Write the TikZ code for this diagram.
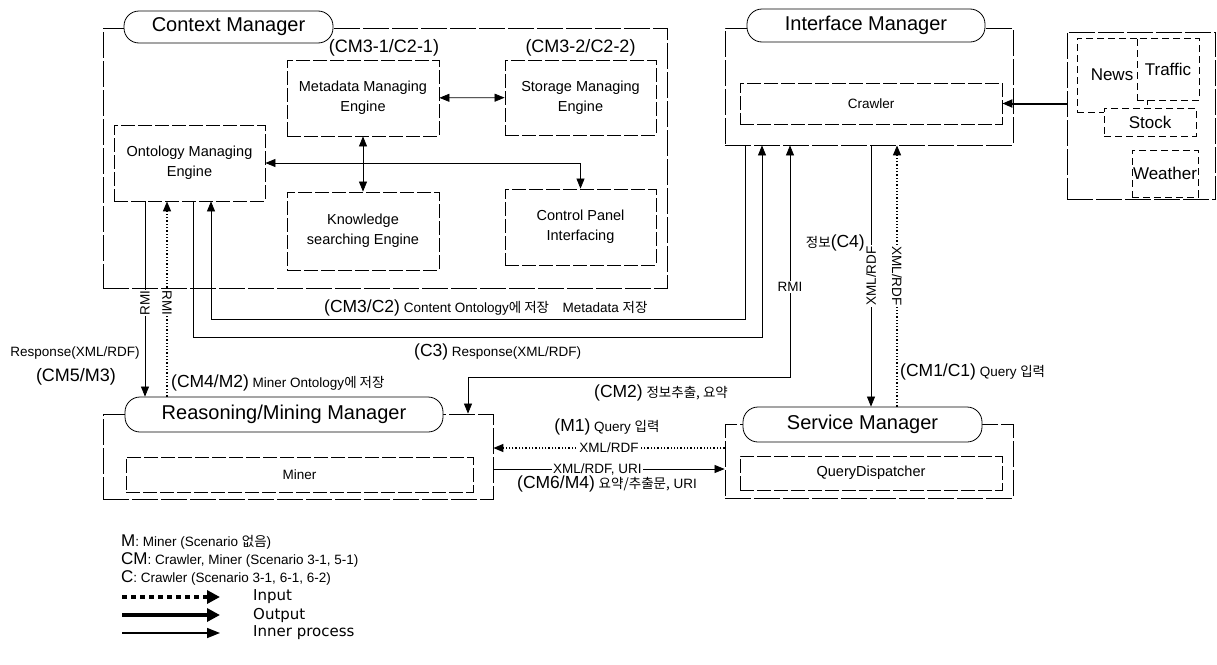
\documentclass[tikz,border=0pt]{standalone}
\usepackage{fontspec}
\setmainfont{Liberation Sans}
\newfontfamily\kr{Noto Sans CJK KR}
\newfontfamily\dejavu{DejaVu Sans}
\usetikzlibrary{arrows.meta,positioning}

\newcommand\sz[2]{\fontsize{#1}{#2}\selectfont}
\newcommand\tg[1]{{\sz{17.5}{20}#1}}

\tikzstyle{frame} = [draw, rectangle, line width=0.8pt, inner sep=0pt,
    dash pattern=on 26pt off 3pt]
\tikzstyle{pill} = [draw, fill=white, rectangle, rounded corners=15pt,
    line width=0.8pt, inner sep=0pt, font=\sz{20}{24}]
\tikzstyle{box} = [draw, fill=white, rectangle, line width=0.8pt, inner sep=0pt,
    dash pattern=on 14pt off 3pt, align=center, font=\sz{14.5}{20}]
\tikzstyle{doc} = [draw, fill=white, rectangle, line width=0.6pt, inner sep=0pt,
    dash pattern=on 7pt off 4pt, font=\sz{17}{20}]
\tikzstyle{lbl} = [inner sep=1pt, font=\sz{13.5}{15}]
\tikzstyle{tag} = [inner sep=1pt, font=\sz{18}{20}]
\tikzset{
  inner/.style={->, line width=0.7pt},
  output/.style={->, line width=2pt},
  input/.style={->, line width=1.3pt, dotted},
  leginput/.style={-{Triangle[length=13pt,width=13pt]}, line width=4pt, dash pattern=on 5pt off 4pt},
  legoutput/.style={-{Triangle[length=13pt,width=13pt]}, line width=4pt},
  leginner/.style={-{Triangle[length=13pt,width=10pt]}, line width=1.6pt},
}

\begin{document}
\begin{tikzpicture}[x=1pt, y=-1pt, >={Triangle[length=10pt,width=8pt]}]
\useasboundingbox (0,0) rectangle (1217,664);

\node[frame, minimum width=564pt, minimum height=260pt] (context) at (385,158) {};
\node[pill, minimum width=209pt, minimum height=32pt] (cmtitle) at (228.5,27) {Context Manager};
\node[frame, minimum width=288pt, minimum height=117pt] (interface) at (869,86.5) {};
\node[pill, minimum width=238pt, minimum height=33pt] (imtitle) at (866,25.5) {Interface Manager};
\node[frame, minimum width=390pt, minimum height=85pt] (reasoning) at (298,456.5) {};
\node[pill, minimum width=318pt, minimum height=35pt] (rmtitle) at (284,414.5) {Reasoning/Mining Manager};
\node[frame, minimum width=288pt, minimum height=74pt] (service) at (869,461) {};
\node[pill, minimum width=239pt, minimum height=35pt] (smtitle) at (862.5,424.5) {Service Manager};
\node[frame, minimum width=148pt, minimum height=167pt] (sources) at (1141,115.5) {};

\node[box, minimum width=152pt, minimum height=76pt] (metadata) at (363,98) {Metadata Managing\\Engine};
\node[box, minimum width=151pt, minimum height=75pt] (storage) at (580.5,97.5) {Storage Managing\\Engine};
\node[box, minimum width=151pt, minimum height=76pt] (ontology) at (189.5,163) {Ontology Managing\\Engine};
\node[box, minimum width=152pt, minimum height=78pt] (knowledge) at (363,231) {Knowledge\\searching Engine};
\node[box, minimum width=151pt, minimum height=76pt] (control) at (580.5,227) {Control Panel\\Interfacing};
\node[box, minimum width=262pt, minimum height=41pt, font=\sz{13.5}{15}] (crawler) at (871,103.5) {Crawler};
\node[box, minimum width=347pt, minimum height=35pt, font=\sz{13.5}{15}] (miner) at (299.5,474.5) {Miner};
\node[box, minimum width=262pt, minimum height=34pt, font=\sz{14.5}{15}] (dispatcher) at (871,473) {QueryDispatcher};

\node[tag, above=2pt of metadata, xshift=21pt] (mdtag) {(CM3-1/C2-1)};
\node[tag, above=2pt of storage] (sttag) {(CM3-2/C2-2)};

\node[doc, minimum width=70pt, minimum height=74pt] (news) at (1112,75) {News};
\node[doc, minimum width=62pt, minimum height=62pt] (traffic) at (1168,69) {Traffic};
\node[doc, minimum width=92pt, minimum height=28pt] (stock) at (1150,122) {Stock};
\node[doc, minimum width=66pt, minimum height=47pt] (weather) at (1165,173.5) {Weather};

\draw[output] (sources.west |- crawler) -- (crawler);
\draw[inner, <->] (metadata) -- (storage);
\draw[inner, <->] (metadata) -- (knowledge);
\draw[inner, <->] (ontology.east) -| (control.north);

\draw[inner] ([xshift=-124pt]interface.south) -- ++(0,174) -| ([xshift=21.5pt]ontology.south);
\draw[inner] ([xshift=3.5pt]ontology.south) -- ++(0,136) -| ([xshift=-107pt]interface.south);
\draw[inner, <->] ([xshift=-79pt]interface.south) -- node[lbl, pos=.61, fill=white] {RMI} ++(0,232)
    -| ([xshift=170pt]reasoning.north);
\draw[inner] ([xshift=2pt]interface.south) -- node[lbl, fill=white, rotate=90] {XML/RDF}
    ([xshift=2pt]interface.south |- smtitle.north);
\draw[input] ([xshift=28pt]interface.south |- smtitle.north) -- node[lbl, fill=white, rotate=-90] {XML/RDF}
    ([xshift=28pt]interface.south);
\draw[inner] ([xshift=-44.5pt]ontology.south) -- node[lbl, fill=white, rotate=90, pos=.52] {RMI}
    ([xshift=-44.5pt]ontology.south |- rmtitle.north);
\draw[input] ([xshift=-22.5pt]ontology.south |- rmtitle.north) -- node[lbl, fill=white, rotate=-90, pos=.48] {RMI}
    ([xshift=-22.5pt]ontology.south);
\draw[input] ([yshift=13pt]service.west) -- node[lbl, fill=white] {XML/RDF}
    ([yshift=13pt]service.west -| reasoning.east);
\draw[inner] ([yshift=-12.5pt]reasoning.east) -- node[lbl, fill=white, pos=.45] {XML/RDF, URI}
    ([yshift=-12.5pt]reasoning.east -| service.west);

\node[lbl, anchor=west] (cm3lbl) at (323,308) {\tg{(CM3/C2)} Content Ontology{\kr 에 저장}\quad Metadata {\kr 저장}};
\node[lbl, anchor=west] (c3lbl) at (413,352) {\tg{(C3)} Response(XML/RDF)};
\node[lbl] (resplbl) at (75,353) {Response(XML/RDF)};
\node[tag] (cm5lbl) at (76,377) {(CM5/M3)};
\node[lbl, anchor=west] (cm4lbl) at (170,383) {\tg{(CM4/M2)} Miner Ontology{\kr 에 저장}};
\node[lbl, anchor=west] (cm2lbl) at (593,393) {\tg{(CM2)} {\kr 정보추출, 요약}};
\node[lbl, anchor=west] (cm1lbl) at (899,372) {\tg{(CM1/C1)} Query {\kr 입력}};
\node[lbl, anchor=east] (c4lbl) at (866,243) {{\kr 정보}\tg{(C4)}};
\node[lbl] (m1lbl) at (607,427) {\tg{(M1)} Query {\kr 입력}};
\node[lbl] (cm6lbl) at (607,484) {\tg{(CM6/M4)} {\kr 요약/추출문,} URI};

\node[lbl, anchor=west, font=\sz{13.5}{15}] (legm) at (120,542) {{\sz{17}{18}M}: Miner (Scenario {\kr 없음})};
\node[lbl, anchor=west, font=\sz{13.5}{15}] (legcm) at (120,560) {{\sz{17}{18}CM}: Crawler, Miner (Scenario 3-1, 5-1)};
\node[lbl, anchor=west, font=\sz{13.5}{15}] (legc) at (120,578) {{\sz{17}{18}C}: Crawler (Scenario 3-1, 6-1, 6-2)};
\node[lbl, anchor=west, font=\dejavu\sz{15}{18}] (legin) at (252,597) {Input};
\node[lbl, anchor=west, font=\dejavu\sz{15}{18}] (legout) at (252,615) {Output};
\node[lbl, anchor=west, font=\dejavu\sz{15}{18}] (leginn) at (252,633) {Inner process};
\draw[leginput] ([xshift=-130pt]legin.west) -- ([xshift=-32pt]legin.west);
\draw[legoutput] ([xshift=-130pt]legout.west) -- ([xshift=-32pt]legout.west);
\draw[leginner] ([xshift=-130pt]leginn.west) -- ([xshift=-32pt]leginn.west);
\end{tikzpicture}
\end{document}
